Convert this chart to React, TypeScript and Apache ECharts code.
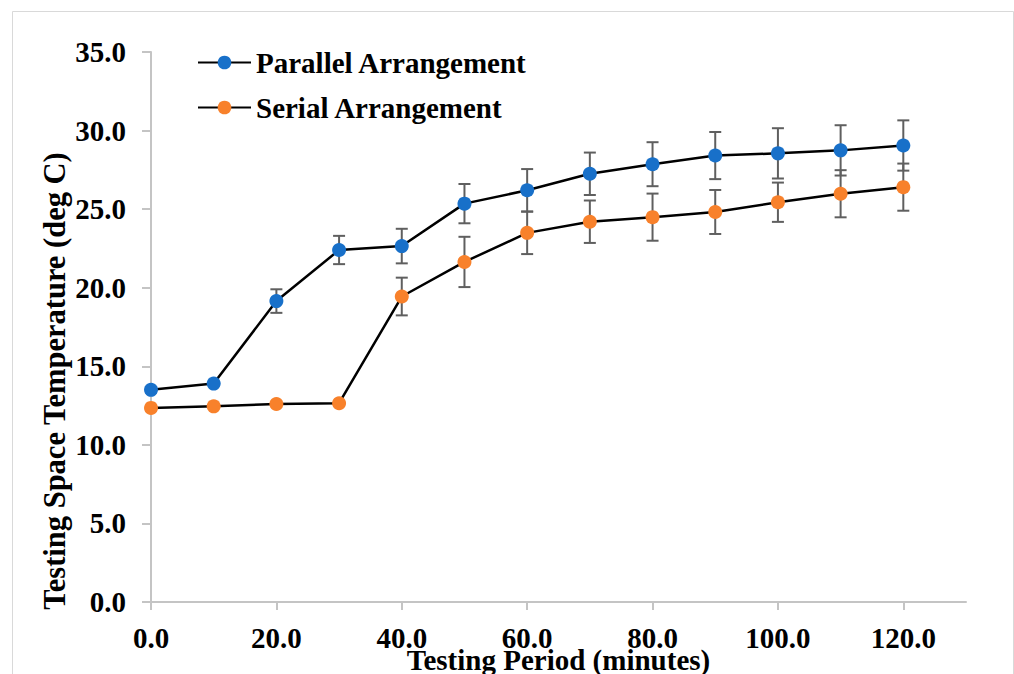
import React, { useEffect, useRef } from "react";
import * as echarts from "echarts";

const minutes = [0, 10, 20, 30, 40, 50, 60, 70, 80, 90, 100, 110, 120];
const parallel = [13.5, 13.9, 19.15, 22.4, 22.65, 25.35, 26.2, 27.25, 27.86, 28.41, 28.55, 28.74, 29.05];
const parallelErr = [0, 0, 0.75, 0.9, 1.1, 1.25, 1.35, 1.35, 1.4, 1.5, 1.6, 1.6, 1.6];
const serial = [12.35, 12.45, 12.6, 12.65, 19.44, 21.64, 23.49, 24.2, 24.49, 24.82, 25.44, 25.98, 26.4];
const serialErr = [0, 0, 0, 0, 1.2, 1.6, 1.35, 1.35, 1.5, 1.4, 1.25, 1.5, 1.5];
const xTicks = [0, 20, 40, 60, 80, 100, 120];
const seriesNames = ["Parallel Arrangement", "Serial Arrangement"];
const xTitle = "Testing Period (minutes)";
const yTitle = "Testing Space Temperature (deg C)";

const FONT = '"Liberation Serif", "Times New Roman", serif';
const BLUE = "#1870C9";
const ORANGE = "#F8812B";
const ERR = "#5f5f5f";
const AXIS = "#c4c4c4";

function errorRender(params: any, api: any) {
  const x = api.value(0);
  const y = api.value(1);
  const e = api.value(2);
  if (!e) return null;
  const top = api.coord([x, y + e]);
  const bot = api.coord([x, y - e]);
  const hw = 6;
  const style = { stroke: ERR, lineWidth: 2 };
  return {
    type: "group",
    children: [
      { type: "line", shape: { x1: top[0], y1: top[1], x2: bot[0], y2: bot[1] }, style },
      { type: "line", shape: { x1: top[0] - hw, y1: top[1], x2: top[0] + hw, y2: top[1] }, style },
      { type: "line", shape: { x1: bot[0] - hw, y1: bot[1], x2: bot[0] + hw, y2: bot[1] }, style },
    ],
  };
}

export default function App() {
  const ref = useRef<HTMLDivElement>(null);
  useEffect(() => {
    if (!ref.current) return;
    const chart = echarts.init(ref.current, undefined, { renderer: "svg" });
    const lineSeries = (name: string, vals: number[], color: string) => ({
      name,
      type: "line",
      data: minutes.map((m, i) => [m, vals[i]]),
      symbol: "circle",
      symbolSize: 14,
      itemStyle: { color, borderWidth: 0 },
      lineStyle: { color: "#000", width: 2.5 },
      z: 3,
    });
    const errSeries = (vals: number[], errs: number[]) => ({
      type: "custom",
      renderItem: errorRender,
      data: minutes.map((m, i) => [m, vals[i], errs[i]]),
      encode: { x: 0, y: 1 },
      z: 2,
      silent: true,
    });
    chart.setOption({
      animation: false,
      backgroundColor: "#fff",
      grid: { left: 151, right: 48, top: 52, bottom: 72, containLabel: false, outerBoundsMode: "none" },
      legend: {
        orient: "vertical",
        left: 192,
        top: 43,
        itemWidth: 53,
        itemHeight: 17,
        itemGap: 16,
        data: seriesNames,
        textStyle: { fontFamily: FONT, fontWeight: "bold", fontSize: 29, color: "#000", lineHeight: 29 },
      },
      xAxis: {
        type: "value",
        min: 0,
        max: 130,
        interval: 20,
        name: xTitle,
        nameLocation: "middle",
        nameGap: 43,
        nameMoveOverlap: false,
        nameTextStyle: { fontFamily: FONT, fontWeight: "bold", fontSize: 29, color: "#000" },
        splitLine: { show: false },
        axisLine: { show: true, lineStyle: { color: AXIS, width: 2 } },
        axisTick: { show: true, length: 8, lineStyle: { color: AXIS, width: 2 }, customValues: xTicks },
        axisLabel: {
          customValues: xTicks,
          margin: 21,
          fontFamily: FONT,
          fontWeight: "bold",
          fontSize: 29,
          color: "#000",
          formatter: (v: number) => v.toFixed(1),
        },
      },
      yAxis: {
        type: "value",
        min: 0,
        max: 35,
        interval: 5,
        splitLine: { show: false },
        axisLine: { show: true, lineStyle: { color: AXIS, width: 2 } },
        axisTick: { show: true, length: 9, lineStyle: { color: AXIS, width: 2 } },
        axisLabel: {
          margin: 25,
          fontFamily: FONT,
          fontWeight: "bold",
          fontSize: 29,
          color: "#000",
          formatter: (v: number) => v.toFixed(1),
        },
      },
      graphic: [
        {
          type: "rect",
          shape: { x: 12.5, y: 11.5, width: 1001, height: 700 },
          style: { fill: "none", stroke: "#d9d9d9", lineWidth: 1 },
          silent: true,
          z: -10,
        },
        {
          type: "text",
          x: 55,
          y: 381,
          rotation: Math.PI / 2,
          style: {
            text: yTitle,
            fontFamily: FONT,
            fontWeight: "bold",
            fontSize: 30.5,
            fill: "#000",
            textAlign: "center",
            textVerticalAlign: "middle",
          },
        },
      ],
      series: [
        errSeries(parallel, parallelErr),
        errSeries(serial, serialErr),
        lineSeries(seriesNames[0], parallel, BLUE),
        lineSeries(seriesNames[1], serial, ORANGE),
      ],
    });
    return () => chart.dispose();
  }, []);
  return (
    <div
      ref={ref}
      style={{ position: "fixed", left: 0, top: 0, width: 1014, height: 674, background: "#fff" }}
    />
  );
}
